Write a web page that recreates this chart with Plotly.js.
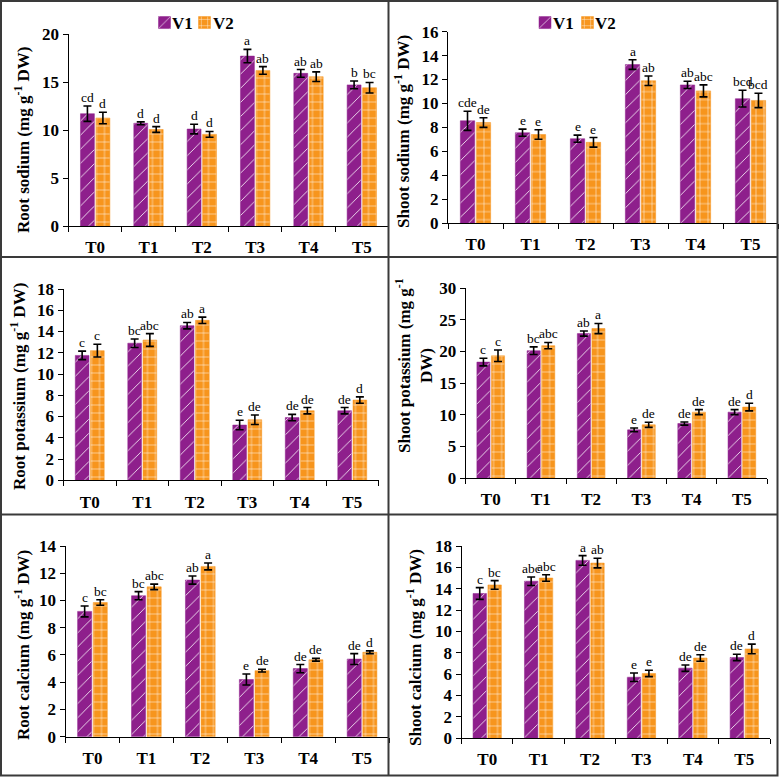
<!DOCTYPE html>
<html>
<head>
<meta charset="utf-8">
<script src="https://cdn.plot.ly/plotly-3.0.1.min.js"></script>
<style>html,body{margin:0;padding:0;background:#fff;}#chart{width:779px;height:777px;}</style>
</head>
<body>
<div id="chart"></div>
<script>
// ---- Data ----
const categories = ['T0','T1','T2','T3','T4','T5'];

const rootNaV1 = [11.7, 10.7, 10.1, 17.7, 15.9, 14.7];
const rootNaV1Err = [0.8, 0.15, 0.5, 0.7, 0.4, 0.4];
const rootNaV2 = [11.25, 10.05, 9.55, 16.2, 15.55, 14.4];
const rootNaV2Err = [0.6, 0.3, 0.3, 0.4, 0.5, 0.55];
const rootNaV1Letters = ['cd','d','d','a','ab','b'];
const rootNaV2Letters = ['d','d','d','ab','ab','bc'];

const shootNaV1 = [8.55, 7.55, 7.05, 13.25, 11.55, 10.4];
const shootNaV1Err = [0.8, 0.3, 0.3, 0.4, 0.3, 0.7];
const shootNaV2 = [8.4, 7.4, 6.75, 11.9, 11.05, 10.25];
const shootNaV2Err = [0.4, 0.4, 0.4, 0.4, 0.5, 0.6];
const shootNaV1Letters = ['cde','e','e','a','ab','bcd'];
const shootNaV2Letters = ['de','e','e','ab','abc','bcd'];

const rootKV1 = [11.75, 12.9, 14.55, 5.2, 5.9, 6.55];
const rootKV1Err = [0.4, 0.4, 0.3, 0.45, 0.3, 0.3];
const rootKV2 = [12.2, 13.2, 15.05, 5.7, 6.55, 7.55];
const rootKV2Err = [0.6, 0.6, 0.3, 0.45, 0.3, 0.3];
const rootKV1Letters = ['c','bc','ab','e','de','de'];
const rootKV2Letters = ['c','abc','a','de','de','d'];

const shootKV1 = [18.3, 20.1, 22.8, 7.6, 8.6, 10.4];
const shootKV1Err = [0.6, 0.6, 0.4, 0.3, 0.25, 0.4];
const shootKV2 = [19.3, 20.9, 23.6, 8.4, 10.4, 11.2];
const shootKV2Err = [0.9, 0.5, 0.8, 0.4, 0.4, 0.6];
const shootKV1Letters = ['c','bc','ab','e','de','de'];
const shootKV2Letters = ['c','abc','a','de','de','d'];

const rootCaV1 = [9.2, 10.35, 11.5, 4.2, 5.0, 5.7];
const rootCaV1Err = [0.4, 0.3, 0.3, 0.4, 0.3, 0.4];
const rootCaV2 = [9.85, 11.0, 12.5, 4.85, 5.65, 6.2];
const rootCaV2Err = [0.2, 0.2, 0.25, 0.1, 0.1, 0.1];
const rootCaV1Letters = ['c','bc','ab','e','de','de'];
const rootCaV2Letters = ['bc','abc','a','de','de','d'];

const shootCaV1 = [13.55, 14.7, 16.65, 5.7, 6.55, 7.55];
const shootCaV1Err = [0.55, 0.4, 0.45, 0.4, 0.3, 0.3];
const shootCaV2 = [14.35, 15.0, 16.4, 6.05, 7.5, 8.35];
const shootCaV2Err = [0.4, 0.3, 0.45, 0.3, 0.3, 0.45];
const shootCaV1Letters = ['c','abc','a','e','de','de'];
const shootCaV2Letters = ['bc','abc','ab','e','de','d'];

const seriesNames = ['V1','V2'];
const yTitles = [
  'Root sodium (mg g<sup>-1</sup> DW)',
  'Shoot sodium (mg g<sup>-1</sup> DW)',
  'Root potassium (mg g<sup>-1</sup> DW)',
  'Shoot potassium (mg g<sup>-1</sup><br>DW)',
  'Root calcium (mg g<sup>-1</sup> DW)',
  'Shoot calcium (mg g<sup>-1</sup> DW)'
];

// ---- Layout helpers ----
const W = 779, H = 777;
const px = v => v / W;
const py = v => 1 - v / H;
const FONT = 'Liberation Serif, Times New Roman, serif';
const PURPLE = '#8E1F8C';
const ORANGE = '#F7951D';

const panels = [
  {v1: rootNaV1, e1: rootNaV1Err, v2: rootNaV2, e2: rootNaV2Err, l1: rootNaV1Letters, l2: rootNaV2Letters,
   x: [68.5, 388.5], y: [34, 226], range: [0, 20], dtick: 5, tx: 22, ty: 140},
  {v1: shootNaV1, e1: shootNaV1Err, v2: shootNaV2, e2: shootNaV2Err, l1: shootNaV1Letters, l2: shootNaV2Letters,
   x: [448, 778], y: [31.7, 223], range: [0, 16], dtick: 2, tx: 402, ty: 132},
  {v1: rootKV1, e1: rootKV1Err, v2: rootKV2, e2: rootKV2Err, l1: rootKV1Letters, l2: rootKV2Letters,
   x: [63.5, 378.5], y: [289, 480.3], range: [0, 18], dtick: 2, tx: 18, ty: 387},
  {v1: shootKV1, e1: shootKV1Err, v2: shootKV2, e2: shootKV2Err, l1: shootKV1Letters, l2: shootKV2Letters,
   x: [465.6, 767], y: [288, 478], range: [0, 30], dtick: 5, tx: 414, ty: 365},
  {v1: rootCaV1, e1: rootCaV1Err, v2: rootCaV2, e2: rootCaV2Err, l1: rootCaV1Letters, l2: rootCaV2Letters,
   x: [65.5, 389], y: [546, 736.7], range: [0, 14], dtick: 2, tx: 22, ty: 645},
  {v1: shootCaV1, e1: shootCaV1Err, v2: shootCaV2, e2: shootCaV2Err, l1: shootCaV1Letters, l2: shootCaV2Letters,
   x: [461.5, 770], y: [546, 738], range: [0, 18], dtick: 2, tx: 414, ty: 647}
];

// legend swatch centres (px) and label left edges (px) for the top two panels
const legendSpots = [
  {sw: [163.5, 203.5], tx: [171, 212]},
  {sw: [544, 586.5], tx: [552, 594]}
];
const LEG_Y = 23;

const BARGAP = 0.42;
const OFF = (1 - BARGAP) / 4;

const traces = [];
const annotations = [];
const layout = {
  width: W, height: H,
  margin: {l: 0, r: 0, t: 0, b: 0},
  paper_bgcolor: '#fff', plot_bgcolor: 'rgba(0,0,0,0)',
  barmode: 'group', bargap: BARGAP, bargroupgap: 0.1,
  font: {family: FONT, color: '#000'},
  showlegend: true,
  shapes: [],
  annotations: annotations
};

let legCount = 0;
function newLegend(swX) {
  legCount++;
  const key = legCount === 1 ? 'legend' : 'legend' + legCount;
  layout[key] = {orientation: 'h', x: px(swX - 19), y: py(LEG_Y), xanchor: 'left', yanchor: 'middle',
    font: {family: FONT, size: 17, color: '#000', weight: 'bold'}, bgcolor: 'rgba(0,0,0,0)', borderwidth: 0};
  return key;
}

panels.forEach((p, i) => {
  const n = i + 1;
  const xa = n === 1 ? 'x' : 'x' + n;
  const ya = n === 1 ? 'y' : 'y' + n;
  const xKey = n === 1 ? 'xaxis' : 'xaxis' + n;
  const yKey = n === 1 ? 'yaxis' : 'yaxis' + n;
  const showLeg = (i === 0 || i === 1);
  const lg1 = showLeg ? newLegend(legendSpots[i].sw[0]) : 'legend';
  const lg2 = showLeg ? newLegend(legendSpots[i].sw[1]) : 'legend';
  traces.push({
    type: 'bar', name: showLeg ? ' ' : seriesNames[0], x: categories, y: p.v1, xaxis: xa, yaxis: ya,
    legend: lg1, showlegend: showLeg,
    marker: {color: PURPLE, line: {color: PURPLE, width: 0.5},
      pattern: {shape: '/', fgcolor: '#ffffff', bgcolor: PURPLE, fillmode: 'replace', size: 10, solidity: 0.08}},
    error_y: {type: 'data', array: p.e1, visible: true, color: '#000', thickness: 1.6, width: 4}
  });
  traces.push({
    type: 'bar', name: showLeg ? ' ' : seriesNames[1], x: categories, y: p.v2, xaxis: xa, yaxis: ya,
    legend: lg2, showlegend: showLeg,
    marker: {color: ORANGE, line: {color: ORANGE, width: 0.5},
      pattern: {shape: '+', fgcolor: '#ffffff', bgcolor: ORANGE, fillmode: 'replace', size: 8, solidity: 0.12}},
    error_y: {type: 'data', array: p.e2, visible: true, color: '#000', thickness: 1.6, width: 4}
  });
  if (showLeg) {
    seriesNames.forEach((s, j) => {
      annotations.push({xref: 'paper', yref: 'paper', x: px(legendSpots[i].tx[j]), y: py(LEG_Y),
        xanchor: 'left', yanchor: 'middle', text: s, showarrow: false, borderpad: 0,
        font: {family: FONT, size: 17, color: '#000', weight: 'bold'}});
    });
  }
  layout[xKey] = {
    domain: [px(p.x[0]), px(p.x[1])], anchor: ya, type: 'category',
    range: [-0.5, 5.5], fixedrange: true,
    showline: true, linecolor: '#000', linewidth: 1,
    ticks: 'outside', tickson: 'boundaries', ticklen: 5, tickcolor: '#000', tickwidth: 1,
    ticklabelstandoff: 6,
    tickfont: {family: FONT, size: 17, color: '#000', weight: 'bold'},
    showgrid: false, zeroline: false
  };
  layout[yKey] = {
    domain: [py(p.y[1]), py(p.y[0])], anchor: xa,
    range: p.range, dtick: p.dtick, tick0: 0, fixedrange: true,
    showline: true, linecolor: '#000', linewidth: 1,
    ticks: 'outside', ticklen: 5, tickcolor: '#000', tickwidth: 1,
    tickfont: {family: FONT, size: 17, color: '#000', weight: 'bold'},
    showgrid: false, zeroline: false
  };
  // y-axis title
  annotations.push({
    xref: 'paper', yref: 'paper', x: px(p.tx), y: py(p.ty), xanchor: 'center', yanchor: 'middle',
    text: yTitles[i], textangle: -90, showarrow: false,
    font: {family: FONT, size: 17, color: '#000', weight: 'bold'}
  });
  // significance letters
  categories.forEach((c, k) => {
    annotations.push({xref: xa, yref: ya, x: k - OFF, y: p.v1[k] + p.e1[k], xanchor: 'center', yanchor: 'bottom',
      text: p.l1[k], showarrow: false, font: {family: FONT, size: 13.5, color: '#000'}, yshift: -1});
    annotations.push({xref: xa, yref: ya, x: k + OFF, y: p.v2[k] + p.e2[k], xanchor: 'center', yanchor: 'bottom',
      text: p.l2[k], showarrow: false, font: {family: FONT, size: 13.5, color: '#000'}, yshift: -1});
  });
});

// panel borders
const B = '#3a3a3a';
layout.shapes.push({type: 'rect', xref: 'paper', yref: 'paper', x0: px(1), x1: px(777.5), y0: py(775.5), y1: py(1),
  line: {color: B, width: 2}});
layout.shapes.push({type: 'line', xref: 'paper', yref: 'paper', x0: px(388.5), x1: px(388.5), y0: py(1), y1: py(775.5),
  line: {color: B, width: 2}});
layout.shapes.push({type: 'line', xref: 'paper', yref: 'paper', x0: px(1), x1: px(777.5), y0: py(257), y1: py(257),
  line: {color: B, width: 2}});
layout.shapes.push({type: 'line', xref: 'paper', yref: 'paper', x0: px(1), x1: px(777.5), y0: py(514.5), y1: py(514.5),
  line: {color: B, width: 2}});

Plotly.newPlot('chart', traces, layout, {staticPlot: true, displayModeBar: false});
</script>
</body>
</html>
